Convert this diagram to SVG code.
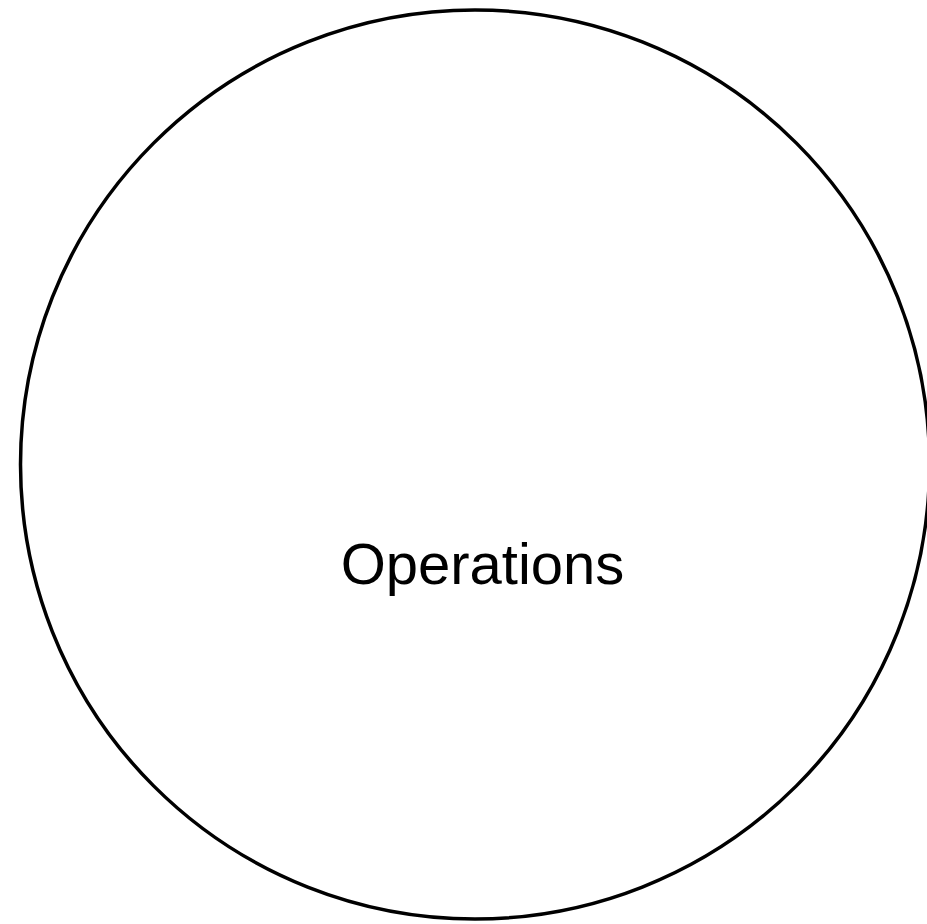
<svg xmlns="http://www.w3.org/2000/svg" width="927" height="924" viewBox="0 0 927 924">
<style>
.node{fill:#fff;stroke:#000;stroke-width:3.5}
.label{font-family:"Liberation Sans",Arial,sans-serif;font-size:58px;fill:#000;text-anchor:middle}
</style>
<rect width="927" height="924" fill="#fff"/>
<g id="operations">
<circle class="node" cx="475" cy="464.5" r="454.5"/>
<text class="label" x="482.5" y="583.5">Operations</text>
</g>
<g id="connectors"/>
</svg>
